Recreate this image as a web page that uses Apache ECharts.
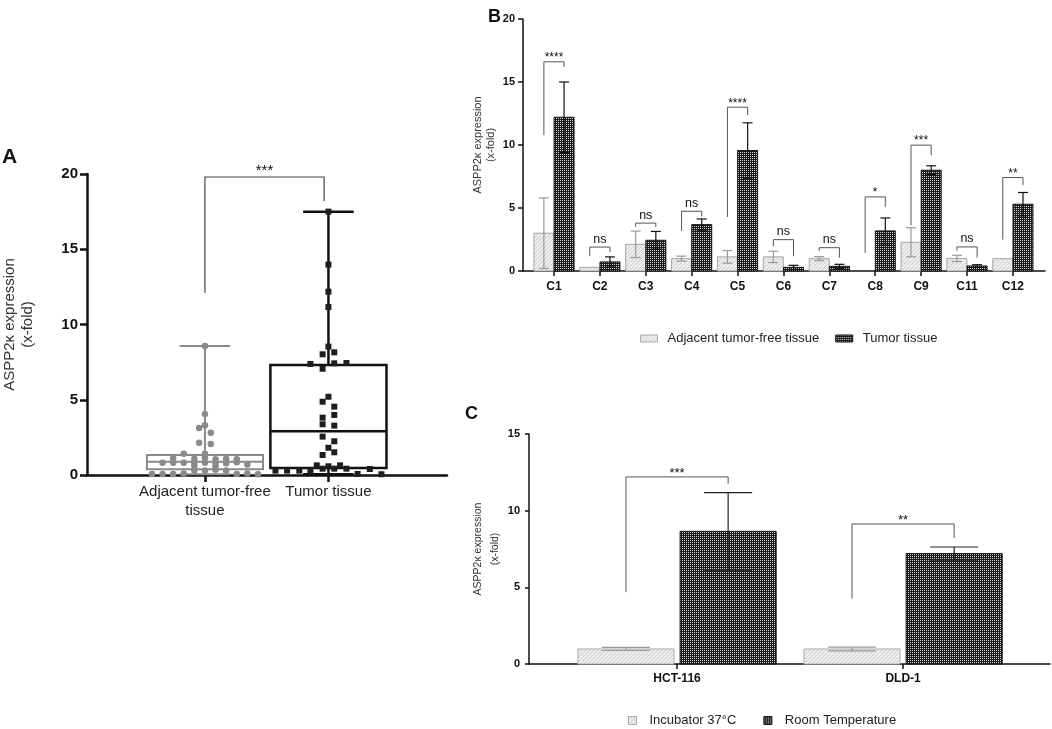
<!DOCTYPE html>
<html><head><meta charset="utf-8">
<script src="https://cdn.jsdelivr.net/npm/echarts@6/dist/echarts.min.js"></script>
<style>html,body{margin:0;padding:0;background:#fff}#main{width:1052px;height:729px}</style>
</head><body><div id="main"></div>
<script>
// ================= DATA =================
// ---- Panel A (box plot with individual values) ----
const groupsA = ['Adjacent tumor-free\ntissue', 'Tumor tissue'];
// [min, Q1, median, Q3, max]
const adjacentBoxA = [0.05, 0.38, 0.88, 1.33, 8.57];
const tumorBoxA = [0.05, 0.47, 2.9, 7.31, 17.5];
const adjacentValuesA = [8.57, 4.05, 3.3, 3.12, 2.8, 2.15, 2.06, 1.42, 1.42,
  1.12, 1.07, 1.15, 1.05, 1.08, 1.05,
  0.82, 0.82, 0.82, 0.8, 0.82, 0.78, 0.78, 0.84, 0.7,
  0.6, 0.56, 0.3, 0.3, 0.35, 0.3,
  0.07, 0.07, 0.07, 0.1, 0.07, 0.1, 0.05];
// swarm column of each point (in dot widths)
const adjacentSlotsA = [0, 0, 0, -0.55, 0.55, -0.55, 0.55, -2, 0,
  -3, -1, 0, 1, 2, 3,
  -4, -3, -2, -1, 0, 1, 2, 3, 4,
  -1, 1, -1, 0, 1, 2,
  -5, -4, -3, -2, 3, 4, 5];
const tumorValuesA = [17.5, 13.98, 12.18, 11.16, 8.53, 8.02, 8.15, 7.38, 7.06, 7.42, 7.44,
  5.2, 4.87, 4.54, 3.81, 3.99, 3.37, 3.28, 2.55, 2.24, 1.81, 1.51, 1.33,
  0.64, 0.58, 0.64, 0.42, 0.42, 0.42, 0.29, 0.29, 0.29, 0.29, 0.07, 0.4, 0.05];
const tumorSlotsA = [0, 0, 0, 0, 0, -0.55, 0.55, -1.7, -0.55, 0.55, 1.7,
  0, -0.55, 0.55, -0.55, 0.55, -0.55, 0.55, -0.55, 0.55, 0, 0.55, -0.55,
  -1.1, 0, 1.1, -0.55, 0.55, 1.7, -5, -3.9, -2.75, -1.7, 2.75, 3.9, 5];
const sigLabelA = ['***'];
const bracketA = [[12.1, 19.8, 18.2]]; // left leg bottom, top, right leg bottom
const yTicksA = [0, 5, 10, 15, 20];

// ---- Panel B (grouped bars, mean ± SD) ----
const categoriesB = ['C1', 'C2', 'C3', 'C4', 'C5', 'C6', 'C7', 'C8', 'C9', 'C11', 'C12'];
const adjacentMeanB = [3.0, 0.29, 2.12, 0.98, 1.12, 1.12, 0.98, 0, 2.28, 1.0, 0.98];
const adjacentSdB   = [2.8, 0, 1.05, 0.2, 0.5, 0.45, 0.16, 0, 1.15, 0.25, 0];
const tumorMeanB    = [12.2, 0.72, 2.44, 3.68, 9.56, 0.29, 0.37, 3.18, 8.0, 0.4, 5.3];
const tumorSdB      = [2.8, 0.4, 0.7, 0.45, 2.2, 0.16, 0.16, 1.03, 0.35, 0.1, 0.93];
const sigLabelsB    = ['****', 'ns', 'ns', 'ns', '****', 'ns', 'ns', '*', '***', 'ns', '**'];
const bracketLeftB  = [10.78, 1.17, 3.5, 3.18, 4.29, 1.96, 1.59, 1.43, 3.63, 1.59, 2.49];
const bracketTopB   = [16.6, 1.9, 3.8, 4.74, 13.0, 2.49, 1.85, 5.88, 9.99, 1.91, 7.42];
const bracketRightB = [16.2, 1.5, 3.5, 4.34, 12.37, 1.17, 1.06, 5.09, 9.19, 1.06, 6.81];
const yTicksB = [0, 5, 10, 15, 20];

// ---- Panel C ----
const cellLinesC = ['HCT-116', 'DLD-1'];
const incubatorMeanC = [0.98, 0.98];
const incubatorSdC   = [0.1, 0.12];
const roomMeanC      = [8.65, 7.2];
const roomSdC        = [2.53, 0.43];
const sigLabelsC     = ['***', '**'];
const bracketLeftC   = [4.69, 4.26];
const bracketTopC    = [12.2, 9.13];
const bracketRightC  = [11.76, 8.22];
const yTicksC = [0, 5, 10, 15];

// ================= STYLE HELPERS =================
const FONT = "'Liberation Sans', Arial, sans-serif";
function tile(size, bg, fg, pts) {
  const c = document.createElement('canvas');
  c.width = size; c.height = size;
  const ctx = c.getContext('2d');
  ctx.fillStyle = bg; ctx.fillRect(0, 0, size, size);
  ctx.fillStyle = fg;
  pts.forEach(p => ctx.fillRect(p[0], p[1], 1, 1));
  return c;
}
const darkPattern = { image: tile(2, '#1a1a1a', '#d8d8d8', [[0, 0]]), repeat: 'repeat' };
const lightPattern = { image: tile(4, '#ececec', '#d0d0d0', [[0, 3], [1, 2], [2, 1], [3, 0]]), repeat: 'repeat' };

function barRenderer(offset, widthFrac, fill, stroke, errColor) {
  return function (params, api) {
    const x = api.value(0), m = api.value(1), sd = api.value(2);
    const unit = api.size([1, 0])[0];
    const bw = widthFrac * unit;
    const top = api.coord([x + offset, m]);
    const base = api.coord([x + offset, 0]);
    const children = [];
    if (m > 0) {
      children.push({ type: 'rect', shape: { x: top[0] - bw / 2, y: top[1], width: bw, height: base[1] - top[1] },
        style: { fill: fill, stroke: stroke, lineWidth: 1 } });
    }
    if (sd > 0) {
      const hi = api.coord([x + offset, m + sd]);
      const lo = api.coord([x + offset, Math.max(0, m - sd)]);
      const cw = bw * 0.25;
      const st = { stroke: errColor, lineWidth: 1.2 };
      children.push({ type: 'line', shape: { x1: hi[0], y1: hi[1], x2: lo[0], y2: lo[1] }, style: st });
      children.push({ type: 'line', shape: { x1: hi[0] - cw, y1: hi[1], x2: hi[0] + cw, y2: hi[1] }, style: st });
      children.push({ type: 'line', shape: { x1: lo[0] - cw, y1: lo[1], x2: lo[0] + cw, y2: lo[1] }, style: st });
    }
    return { type: 'group', children: children };
  };
}

function bracketRenderer(labels, color, starFont, nsFont, lw, starGap, nsGap) {
  return function (params, api) {
    const xl = api.value(0), xr = api.value(1);
    const l = api.value(2), t = api.value(3), r = api.value(4);
    const p1 = api.coord([xl, l]), p2 = api.coord([xl, t]), p3 = api.coord([xr, t]), p4 = api.coord([xr, r]);
    const label = labels[params.dataIndex];
    const ns = label === 'ns';
    return { type: 'group', children: [
      { type: 'polyline', shape: { points: [p1, p2, p3, p4] }, style: { stroke: color, lineWidth: lw, fill: null } },
      { type: 'text', x: (p2[0] + p3[0]) / 2, y: p2[1] - (ns ? nsGap : starGap),
        style: { text: label, fill: '#111', font: ns ? nsFont : starFont, align: 'center', verticalAlign: 'middle' } }
    ] };
  };
}

function boxRenderer(color, lw) {
  return function (params, api) {
    const x = api.value(0);
    const mn = api.value(1), q1 = api.value(2), md = api.value(3), q3 = api.value(4), mx = api.value(5);
    const unit = api.size([1, 0])[0];
    const bw = 0.94 * unit, cw = 0.41 * unit;
    const pMin = api.coord([x, mn]), pQ1 = api.coord([x, q1]), pMd = api.coord([x, md]), pQ3 = api.coord([x, q3]), pMx = api.coord([x, mx]);
    const cx = pMd[0];
    const st = { stroke: color, lineWidth: lw, fill: null };
    return { type: 'group', children: [
      { type: 'rect', shape: { x: cx - bw / 2, y: pQ3[1], width: bw, height: pQ1[1] - pQ3[1] }, style: st },
      { type: 'line', shape: { x1: cx - bw / 2, y1: pMd[1], x2: cx + bw / 2, y2: pMd[1] }, style: st },
      { type: 'line', shape: { x1: cx, y1: pQ3[1], x2: cx, y2: pMx[1] }, style: st },
      { type: 'line', shape: { x1: cx - cw / 2, y1: pMx[1], x2: cx + cw / 2, y2: pMx[1] }, style: st },
      { type: 'line', shape: { x1: cx, y1: pQ1[1], x2: cx, y2: pMin[1] }, style: st },
      { type: 'line', shape: { x1: cx - cw / 2, y1: pMin[1], x2: cx + cw / 2, y2: pMin[1] }, style: st }
    ] };
  };
}

const SLOT_PX = 10.6;
const OFF_B = 0.22, BW_B = 0.435;
const OFF_C = 0.226, BW_C = 0.425;

// ================= OPTION =================
const chart = echarts.init(document.getElementById('main'), null, { renderer: 'canvas' });
const option = {
  animation: false,
  backgroundColor: '#fff',
  textStyle: { fontFamily: FONT },
  grid: [
    { left: 87, top: 174, width: 360, height: 301 },
    { left: 523, top: 19, width: 522, height: 252 },
    { left: 529, top: 434, width: 521, height: 230 }
  ],
  xAxis: [
    { gridIndex: 0, type: 'value', min: -0.955, max: 1.96, splitLine: { show: false },
      axisLine: { lineStyle: { color: '#111', width: 2.5 } },
      axisTick: { customValues: [0, 1], length: 7, lineStyle: { color: '#111', width: 2.5 } },
      axisLabel: { customValues: [0, 1], formatter: v => groupsA[Math.round(v)], fontSize: 15, color: '#222', lineHeight: 19, margin: 7, fontFamily: FONT } },
    { gridIndex: 1, type: 'value', min: -0.675, max: 10.7, splitLine: { show: false },
      axisLine: { lineStyle: { color: '#111', width: 1.5 } },
      axisTick: { customValues: categoriesB.map((c, i) => i), length: 5, lineStyle: { color: '#111', width: 1.5 } },
      axisLabel: { customValues: categoriesB.map((c, i) => i), formatter: v => categoriesB[Math.round(v)], fontSize: 12, fontWeight: 'bold', color: '#111', margin: 10, fontFamily: FONT } },
    { gridIndex: 2, type: 'value', min: -0.655, max: 1.65, splitLine: { show: false },
      axisLine: { lineStyle: { color: '#111', width: 1.5 } },
      axisTick: { customValues: [0, 1], length: 5, lineStyle: { color: '#111', width: 1.5 } },
      axisLabel: { customValues: [0, 1], formatter: v => cellLinesC[Math.round(v)], fontSize: 12, fontWeight: 'bold', color: '#111', margin: 9, fontFamily: FONT } }
  ],
  yAxis: [
    { gridIndex: 0, type: 'value', min: 0, max: 20, interval: 5, splitLine: { show: false },
      axisLine: { show: true, onZero: false, lineStyle: { color: '#111', width: 2.5 } },
      axisTick: { show: true, length: 7, lineStyle: { color: '#111', width: 2.5 } },
      axisLabel: { fontSize: 15, fontWeight: 'bold', color: '#111', margin: 9, fontFamily: FONT,
        customValues: yTicksA },
      name: 'ASPP2κ expression\n(x-fold)', nameLocation: 'middle', nameRotate: 90, nameGap: 50,
      nameTextStyle: { fontSize: 15, lineHeight: 18, color: '#333', fontFamily: FONT } },
    { gridIndex: 1, type: 'value', min: 0, max: 20, interval: 5, splitLine: { show: false },
      axisLine: { show: true, onZero: false, lineStyle: { color: '#111', width: 1.5 } },
      axisTick: { show: true, length: 5, lineStyle: { color: '#111', width: 1.5 } },
      axisLabel: { fontSize: 11, fontWeight: 'bold', color: '#111', margin: 8, fontFamily: FONT, customValues: yTicksB },
      name: 'ASPP2κ expression\n(x-fold)', nameLocation: 'middle', nameRotate: 90, nameGap: 26,
      nameTextStyle: { fontSize: 11, lineHeight: 13, color: '#333', fontFamily: FONT } },
    { gridIndex: 2, type: 'value', min: 0, max: 15, interval: 5, splitLine: { show: false },
      axisLine: { show: true, onZero: false, lineStyle: { color: '#111', width: 1.5 } },
      axisTick: { show: true, length: 4, lineStyle: { color: '#111', width: 1.5 } },
      axisLabel: { fontSize: 11, fontWeight: 'bold', color: '#111', margin: 9, fontFamily: FONT, customValues: yTicksC },
      name: 'ASPP2κ expression\n(x-fold)', nameLocation: 'middle', nameRotate: 90, nameGap: 19,
      nameTextStyle: { fontSize: 10.5, lineHeight: 17, color: '#333', fontFamily: FONT } }
  ],
  legend: [
    { data: [
        { name: 'Adjacent tumor-free tissue', icon: 'rect', itemStyle: { color: lightPattern, borderColor: '#aaa', borderWidth: 1 } },
        { name: 'Tumor tissue', icon: 'rect', itemStyle: { color: darkPattern, borderColor: '#111', borderWidth: 1 } }
      ],
      left: 640, top: 332, padding: 0, itemWidth: 17, itemHeight: 7, itemGap: 16, selectedMode: false,
      textStyle: { fontSize: 13, color: '#222', fontFamily: FONT, padding: [0, 0, 0, 5] } },
    { data: [
        { name: 'Incubator 37°C', icon: 'rect', itemStyle: { color: lightPattern, borderColor: '#aaa', borderWidth: 1 } },
        { name: 'Room Temperature', icon: 'rect', itemStyle: { color: darkPattern, borderColor: '#111', borderWidth: 1 } }
      ],
      left: 628, top: 714, padding: 0, itemWidth: 8, itemHeight: 8, itemGap: 27, selectedMode: false,
      textStyle: { fontSize: 13, color: '#222', fontFamily: FONT, padding: [0, 0, 0, 8] } }
  ],
  graphic: [
    { type: 'text', left: 2, top: 147, style: { text: 'A', font: "bold 21px " + FONT, fill: '#111' } },
    { type: 'text', left: 488, top: 8, style: { text: 'B', font: "bold 18px " + FONT, fill: '#111' } },
    { type: 'text', left: 465, top: 405, style: { text: 'C', font: "bold 18px " + FONT, fill: '#111' } }
  ],
  series: [
    // ---------- Panel A ----------
    { name: 'A adjacent box', type: 'custom', xAxisIndex: 0, yAxisIndex: 0, silent: true, z: 2,
      renderItem: boxRenderer('#8a8a8a', 2), encode: { x: 0, y: [1, 2, 3, 4, 5] },
      data: [[0].concat(adjacentBoxA)] },
    { name: 'A tumor box', type: 'custom', xAxisIndex: 0, yAxisIndex: 0, silent: true, z: 2,
      renderItem: boxRenderer('#111', 2.5), encode: { x: 0, y: [1, 2, 3, 4, 5] },
      data: [[1].concat(tumorBoxA)] },
    { name: 'A adjacent points', type: 'scatter', xAxisIndex: 0, yAxisIndex: 0, silent: true, z: 3,
      symbol: 'circle', symbolSize: 6.5, itemStyle: { color: '#8a8a8a', opacity: 1 },
      data: adjacentValuesA.map((v, i) => ({ value: [0, v], symbolOffset: [adjacentSlotsA[i] * SLOT_PX, 0] })) },
    { name: 'A tumor points', type: 'scatter', xAxisIndex: 0, yAxisIndex: 0, silent: true, z: 3,
      symbol: 'rect', symbolSize: 6, itemStyle: { color: '#1e1e1e', opacity: 1 },
      data: tumorValuesA.map((v, i) => ({ value: [1, v], symbolOffset: [tumorSlotsA[i] * SLOT_PX, 0] })) },
    { name: 'A bracket', type: 'custom', xAxisIndex: 0, yAxisIndex: 0, silent: true, z: 4,
      renderItem: bracketRenderer(sigLabelA, '#444', "15px " + FONT, "15px " + FONT, 1.2, 6, 8),
      encode: { x: [0, 1], y: [2, 3, 4] },
      data: bracketA.map(b => [0, 0.965, b[0], b[1], b[2]]) },
    // ---------- Panel B ----------
    { name: 'Adjacent tumor-free tissue', type: 'custom', xAxisIndex: 1, yAxisIndex: 1, silent: true,
      itemStyle: { color: lightPattern, borderColor: '#aaa', borderWidth: 1 },
      renderItem: barRenderer(-OFF_B, BW_B, lightPattern, '#a5a5a5', '#999'), encode: { x: 0, y: 1 },
      data: categoriesB.map((c, i) => [i, adjacentMeanB[i], adjacentSdB[i]]) },
    { name: 'Tumor tissue', type: 'custom', xAxisIndex: 1, yAxisIndex: 1, silent: true,
      itemStyle: { color: darkPattern, borderColor: '#111', borderWidth: 1 },
      renderItem: barRenderer(OFF_B, BW_B, darkPattern, '#111', '#111'), encode: { x: 0, y: 1 },
      data: categoriesB.map((c, i) => [i, tumorMeanB[i], tumorSdB[i]]) },
    { name: 'B brackets', type: 'custom', xAxisIndex: 1, yAxisIndex: 1, silent: true, z: 4,
      renderItem: bracketRenderer(sigLabelsB, '#555', "12px " + FONT, "12.5px " + FONT, 1, 4, 8),
      encode: { x: [0, 1], y: [2, 3, 4] },
      data: categoriesB.map((c, i) => [i - OFF_B, i + OFF_B, bracketLeftB[i], bracketTopB[i], bracketRightB[i]]) },
    // ---------- Panel C ----------
    { name: 'Incubator 37°C', type: 'custom', xAxisIndex: 2, yAxisIndex: 2, silent: true,
      itemStyle: { color: lightPattern, borderColor: '#aaa', borderWidth: 1 },
      renderItem: barRenderer(-OFF_C, BW_C, lightPattern, '#acacac', '#999'), encode: { x: 0, y: 1 },
      data: cellLinesC.map((c, i) => [i, incubatorMeanC[i], incubatorSdC[i]]) },
    { name: 'Room Temperature', type: 'custom', xAxisIndex: 2, yAxisIndex: 2, silent: true,
      itemStyle: { color: darkPattern, borderColor: '#111', borderWidth: 1 },
      renderItem: barRenderer(OFF_C, BW_C, darkPattern, '#111', '#222'), encode: { x: 0, y: 1 },
      data: cellLinesC.map((c, i) => [i, roomMeanC[i], roomSdC[i]]) },
    { name: 'C brackets', type: 'custom', xAxisIndex: 2, yAxisIndex: 2, silent: true, z: 4,
      renderItem: bracketRenderer(sigLabelsC, '#555', "13px " + FONT, "13px " + FONT, 1, 4, 8),
      encode: { x: [0, 1], y: [2, 3, 4] },
      data: cellLinesC.map((c, i) => [i - OFF_C, i + OFF_C, bracketLeftC[i], bracketTopC[i], bracketRightC[i]]) }
  ]
};
chart.setOption(option);
</script>
</body></html>
